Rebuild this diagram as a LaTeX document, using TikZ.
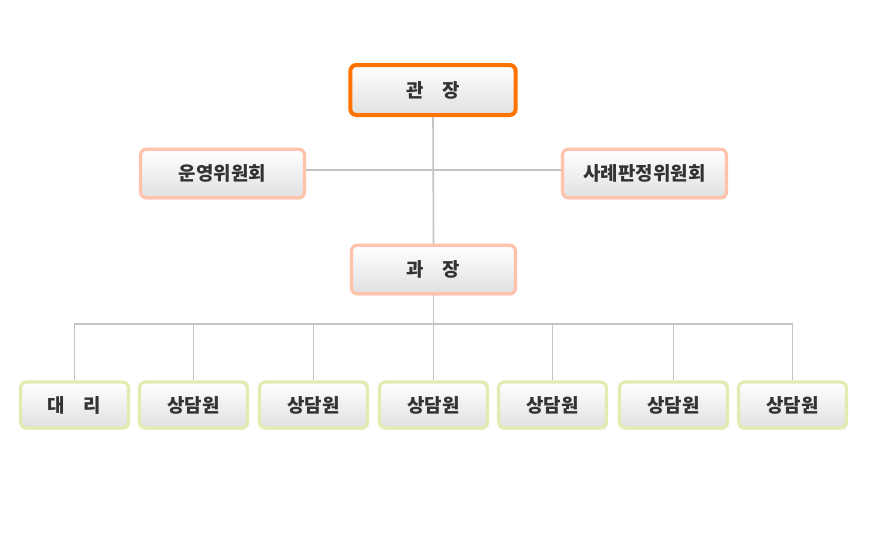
\documentclass[tikz,border=0pt]{standalone}
\usepackage{fontspec}
\setmainfont{Noto Sans CJK KR}
\usetikzlibrary{shadows}
\definecolor{orgc}{HTML}{FF7300}
\definecolor{salc}{HTML}{FFC2AA}
\definecolor{grnc}{HTML}{E2ECB0}
\definecolor{linec}{HTML}{C4C4C4}
\definecolor{txtc}{HTML}{333333}
\tikzset{
  box/.style={rounded corners=4.5pt, top color=white, bottom color=black!12, text=txtc,
    font=\fontsize{14.2pt}{16pt}\selectfont\bfseries, inner sep=0pt, line width=2.4pt,
    drop shadow={shadow xshift=0.9pt, shadow yshift=-1.3pt, opacity=0.18}},
  topbox/.style={box, draw=orgc, minimum width=124pt, minimum height=37.5pt, line width=3pt},
  midbox/.style={box, draw=salc, minimum width=123pt, minimum height=36.5pt},
  lowbox/.style={box, draw=grnc, minimum width=81pt, minimum height=34.5pt},
  conn/.style={draw=linec, line width=1.2pt}
}
\begin{document}
\begin{tikzpicture}[x=0.75pt,y=-0.75pt]
\useasboundingbox (0,0) rectangle (870,540);
\fill[white] (0,0) rectangle (870,540);
\node[topbox] (gwan) at (433,90) {관\hspace{14pt}장};
\node[midbox] (unyeong) at (222.5,173.5) {운영위원회};
\node[midbox] (sarye) at (644.5,173.5) {사례판정위원회};
\node[midbox] (gwajang) at (433.5,269.5) {과\hspace{14pt}장};
\node[lowbox] (b1) at (74.5,405) {대\hspace{14pt}리};
\node[lowbox] (b2) at (193.5,405) {상담원};
\node[lowbox] (b3) at (313.5,405) {상담원};
\node[lowbox] (b4) at (433.5,405) {상담원};
\node[lowbox] (b5) at (552.5,405) {상담원};
\node[lowbox] (b6) at (673.5,405) {상담원};
\node[lowbox] (b7) at (792.5,405) {상담원};
\coordinate (jn) at (433.5,170);
\coordinate (bus) at (433.5,324);
\draw[conn] (gwan.south) -- (gwajang.north);
\draw[conn] (unyeong.east |- jn) -- (sarye.west |- jn);
\draw[conn] (gwajang.south) -- (bus);
\foreach \n in {b1,b2,b3,b4,b5,b6,b7} \draw[conn] (bus) -| (\n.north);
\end{tikzpicture}
\end{document}
